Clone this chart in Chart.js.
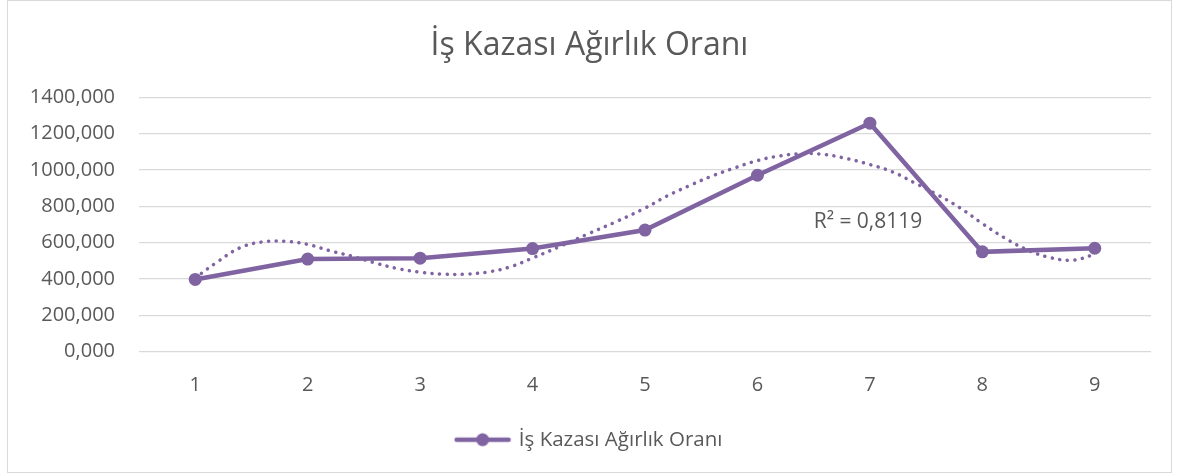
<!DOCTYPE html>
<html>
<head>
<meta charset="utf-8">
<script src="https://cdn.jsdelivr.net/npm/chart.js@4/dist/chart.umd.min.js"></script>
<style>
  html, body { margin: 0; padding: 0; background: #ffffff; }
  #wrap { position: relative; width: 1179px; height: 476px; }
  #frame { position: absolute; left: 7px; top: 0px; width: 1165px; height: 473px; border: 1px solid #d9d9d9; box-sizing: border-box; }
  #c { position: absolute; left: 0; top: 0; }
</style>
</head>
<body>
<div id="wrap">
  <div id="frame"></div>
  <canvas id="c" width="1179" height="476"></canvas>
</div>
<script>
// ---- data ----
const categories = ["1", "2", "3", "4", "5", "6", "7", "8", "9"];
const seriesName = "İş Kazası Ağırlık Oranı";
const values = [397, 509, 514, 567, 669, 971, 1258, 549, 569];
// dotted polynomial trendline
const trendX = [1, 1.2, 1.4, 1.6, 1.8, 2, 2.2, 2.4, 2.6, 2.8, 3, 3.2, 3.4, 3.6, 3.8, 4, 4.25, 4.5, 4.75, 5, 5.2, 5.4, 5.6, 5.8, 6, 6.2, 6.4, 6.6, 6.8, 7, 7.2, 7.4, 7.6, 7.8, 8, 8.2, 8.4, 8.6, 8.8, 9];
const trendY = [405, 495, 572, 604, 607, 590, 555, 524, 488, 457, 437, 426, 426, 438, 466, 515, 581, 650, 717, 790, 858, 915, 968, 1012, 1052, 1078, 1090, 1085, 1062, 1030, 990, 928, 864, 792, 705, 625, 560, 518, 503, 535];
const r2Text = "R² = 0,8119";
const r2Anchor = [6.5, 711];
const yTicks = [0, 200, 400, 600, 800, 1000, 1200, 1400];

const PURPLE = "#8064A2";
const TEXT = "#595959";
const FONT = "'Open Sans', 'Noto Sans', sans-serif";

// legend symbol: line with circle marker
const sym = document.createElement('canvas');
sym.width = 58; sym.height = 16;
(function () {
  const g = sym.getContext('2d');
  g.strokeStyle = PURPLE; g.lineWidth = 4.5; g.lineCap = 'round';
  g.beginPath(); g.moveTo(3, 8); g.lineTo(55, 8); g.stroke();
  g.fillStyle = PURPLE; g.beginPath(); g.arc(29, 8, 6.5, 0, Math.PI * 2); g.fill();
})();

const r2Plugin = {
  id: 'r2label',
  afterDatasetsDraw(chart) {
    const { ctx, scales } = chart;
    const px = scales.x.getPixelForValue(r2Anchor[0]);
    const py = scales.y.getPixelForValue(r2Anchor[1]);
    ctx.save();
    ctx.font = "21px " + FONT;
    ctx.fillStyle = TEXT;
    ctx.textAlign = 'left';
    ctx.textBaseline = 'middle';
    ctx.fillText(r2Text, px, py);
    ctx.restore();
  }
};

new Chart(document.getElementById('c'), {
  type: 'line',
  data: {
    datasets: [
      {
        label: seriesName,
        data: values.map((v, i) => ({ x: i + 1, y: v })),
        borderColor: PURPLE,
        backgroundColor: PURPLE,
        borderWidth: 4.5,
        pointRadius: 6.5,
        pointHoverRadius: 6.5,
        pointBackgroundColor: PURPLE,
        pointBorderWidth: 0,
        tension: 0,
        order: 1
      },
      {
        label: 'trend',
        data: trendX.map((x, i) => ({ x: x, y: trendY[i] })),
        borderColor: PURPLE,
        borderWidth: 3.5,
        borderDash: [0.1, 7.5],
        borderCapStyle: 'round',
        pointRadius: 0,
        tension: 0.4,
        fill: false,
        order: 2
      }
    ]
  },
  options: {
    responsive: false,
    animation: false,
    devicePixelRatio: 1,
    layout: { padding: { left: 0, right: 0, top: 0, bottom: 16 } },
    plugins: {
      title: {
        display: true,
        text: seriesName,
        color: TEXT,
        font: { family: FONT, size: 32, weight: 'normal' },
        padding: { top: 27, bottom: 32 }
      },
      legend: {
        position: 'bottom',
        labels: {
          color: TEXT,
          font: { family: FONT, size: 20.5 },
          usePointStyle: true,
          pointStyleWidth: 52,
          padding: 10,
          generateLabels(chart) {
            const items = Chart.defaults.plugins.legend.labels.generateLabels(chart);
            return items.filter(it => it.datasetIndex === 0).map(it => Object.assign(it, { pointStyle: sym }));
          }
        }
      },
      tooltip: { enabled: false }
    },
    scales: {
      x: {
        type: 'linear',
        min: 0.5,
        max: 9.5,
        afterBuildTicks(scale) { scale.ticks = categories.map((c, i) => ({ value: i + 1 })); },
        ticks: {
          color: TEXT,
          font: { family: FONT, size: 20 },
          padding: 22,
          maxRotation: 0,
          autoSkip: false,
          callback: (v) => categories[Math.round(v) - 1]
        },
        grid: { display: false, drawTicks: false },
        border: { display: false }
      },
      y: {
        min: 0,
        max: 1400,
        afterBuildTicks(scale) { scale.ticks = yTicks.map(v => ({ value: v })); },
        afterFit(scale) { scale.width = 139; },
        ticks: {
          color: TEXT,
          font: { family: FONT, size: 20 },
          padding: 24,
          callback: (v) => v.toFixed(3).replace('.', ',')
        },
        grid: { color: '#d9d9d9', lineWidth: 1.3, drawTicks: false },
        border: { display: false }
      },
      // empty right-hand spacer so the plot ends where the reference's does
      spacer: {
        type: 'linear',
        position: 'right',
        display: true,
        afterFit(scale) { scale.width = 28; },
        ticks: { display: false },
        grid: { display: false, drawTicks: false },
        border: { display: false }
      }
    }
  },
  plugins: [r2Plugin]
});
</script>
</body>
</html>
